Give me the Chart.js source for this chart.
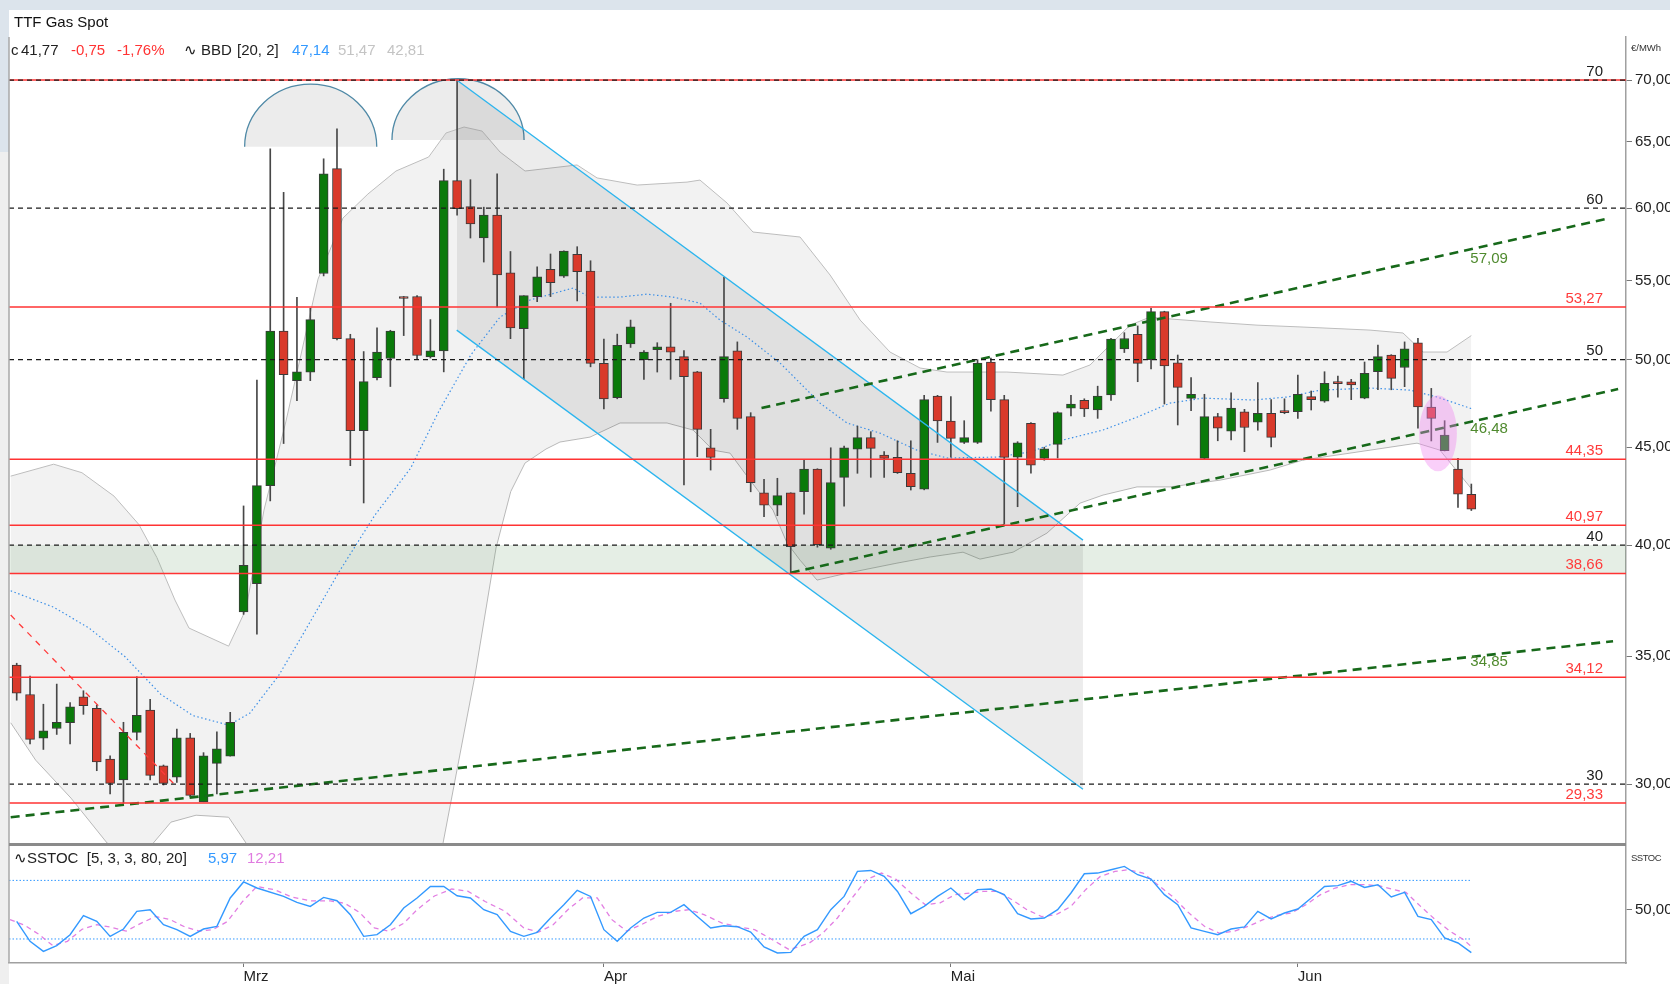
<!DOCTYPE html>
<html>
<head>
<meta charset="utf-8">
<script src="https://cdn.jsdelivr.net/npm/chart.js@4.4.1/dist/chart.umd.min.js"></script>
<style>
  body { margin: 0; width: 1670px; height: 984px; overflow: hidden; background: #fff; position: relative;
         font-family: "Liberation Sans", Arial, sans-serif; }
  #topStrip { position: absolute; left: 0; top: 0; width: 1670px; height: 10px; background: #dce4ec; }
  #leftStrip1 { position: absolute; left: 0; top: 10px; width: 9px; height: 142px; background: #dce4ec; }
  #leftStrip2 { position: absolute; left: 0; top: 152px; width: 9px; height: 832px; background: #efefef; }
  canvas { position: absolute; left: 0; }
  #priceChart { top: 0; }
  #stochChart { top: 843px; }
  .txt { position: absolute; font-size: 15px; line-height: 18px; color: #222; white-space: pre; z-index: 5; }
  .small { position: absolute; font-size: 9.5px; color: #333; z-index: 5; }
</style>
</head>
<body>
<div id="topStrip"></div>
<div id="leftStrip1"></div>
<div id="leftStrip2"></div>
<canvas id="priceChart" width="1670" height="843"></canvas>
<canvas id="stochChart" width="1670" height="141"></canvas>

<div class="txt" style="left:14px;top:13px;color:#111">TTF Gas Spot</div>
<div class="txt" style="left:11px;top:41px">c</div>
<div class="txt" style="left:21px;top:41px">41,77</div>
<div class="txt" style="left:71px;top:41px;color:#ff3333">-0,75</div>
<div class="txt" style="left:117px;top:41px;color:#ff3333">-1,76%</div>
<div class="txt" style="left:184px;top:41px">&#x223F;</div>
<div class="txt" style="left:201px;top:41px">BBD</div>
<div class="txt" style="left:237px;top:41px">[20, 2]</div>
<div class="txt" style="left:292px;top:41px;color:#3399ff">47,14</div>
<div class="txt" style="left:338px;top:41px;color:#c4c4c4">51,47</div>
<div class="txt" style="left:387px;top:41px;color:#c4c4c4">42,81</div>
<div class="small" style="left:1631px;top:42px">€/MWh</div>

<div class="txt" style="left:14px;top:849px">&#x223F;SSTOC  [5, 3, 3, 80, 20]</div>
<div class="txt" style="left:208px;top:849px;color:#3399ff">5,97</div>
<div class="txt" style="left:247px;top:849px;color:#e07ce0">12,21</div>
<div class="small" style="left:1631px;top:852px;letter-spacing:-0.5px">SSTOC</div>

<script>
// candles, index 0..109
const candleOpen = [34.62,33.42,31.71,32.08,32.30,33.32,32.87,30.92,30.15,31.93,32.80,30.67,30.25,31.72,29.37,30.76,31.03,
  36.91,38.19,42.97,51.75,48.75,49.25,55.46,62.92,51.28,45.91,48.93,50.07,53.86,53.95,50.17,50.53,62.02,60.11,57.88,59.50,55.50,
  51.90,53.94,55.74,55.29,56.76,55.62,49.78,47.76,50.95,50.00,50.61,50.78,50.18,49.28,44.97,47.71,50.53,46.69,42.60,41.97,42.60,
  42.65,43.83,39.85,43.40,44.89,45.52,44.58,44.46,43.61,42.78,47.86,46.44,45.26,45.26,49.85,47.65,44.46,46.31,44.40,45.15,47.17,
  47.61,47.06,47.92,50.65,51.54,50.00,52.97,49.81,47.72,44.40,46.69,45.88,46.96,46.37,46.87,47.02,46.96,47.82,47.56,48.60,48.69,
  47.74,49.28,50.28,49.53,51.03,47.23,44.81,43.83,42.52];
const candleHigh = [34.70,34.17,33.03,33.84,33.10,33.57,33.00,31.04,32.32,34.14,33.22,30.70,32.06,31.89,31.16,31.95,32.71,
  41.93,48.79,64.44,61.15,53.90,53.20,63.67,66.00,51.55,50.49,51.95,51.80,53.95,54.00,52.47,62.88,70.00,62.09,60.07,62.52,56.95,
  54.00,55.91,56.78,57.00,57.28,56.32,51.25,51.56,52.44,50.55,51.03,53.51,50.55,49.30,45.98,55.21,51.08,46.91,43.30,43.35,42.60,
  44.35,43.85,44.97,45.06,46.16,45.85,44.76,45.35,45.35,47.90,47.90,47.82,46.46,50.00,50.10,47.90,45.30,46.35,45.00,46.96,47.90,
  47.70,48.43,51.30,51.65,52.07,53.18,53.00,50.28,48.94,47.96,46.87,48.04,47.10,48.64,47.65,47.70,49.08,48.15,49.28,49.02,48.83,
  49.86,50.89,50.30,51.08,51.30,48.30,46.46,44.40,43.05];
const candleLow = [33.19,31.49,31.28,31.85,31.49,32.63,30.49,29.65,29.32,31.64,30.15,29.97,30.06,29.55,29.37,29.65,31.03,
  36.80,35.94,42.18,45.20,47.59,48.75,55.30,51.20,44.01,42.08,48.80,48.41,51.47,50.00,50.10,49.27,59.50,57.88,56.23,53.28,51.28,
  48.83,53.61,53.94,55.20,53.66,49.57,47.12,47.70,50.74,48.83,49.26,48.83,43.00,44.49,43.78,47.50,45.98,42.65,41.39,41.44,38.69,
  41.52,39.90,39.80,41.92,43.61,43.40,43.40,43.60,42.74,42.75,45.26,44.46,45.20,45.20,47.00,41.03,41.89,43.61,44.30,44.42,46.73,
  46.69,46.59,47.61,50.43,48.69,49.44,47.40,46.22,47.02,44.35,45.35,45.40,44.76,45.93,45.01,46.85,46.59,47.06,47.50,47.79,47.65,
  47.70,48.22,48.22,48.40,46.04,45.34,44.80,41.86,41.70];
const candleClose = [33.47,31.66,31.99,32.32,32.93,32.97,30.81,30.03,31.93,32.59,30.32,30.03,31.72,29.60,31.04,31.30,32.32,
  39.04,42.97,51.75,49.11,49.27,52.47,62.52,51.28,45.91,48.70,50.46,51.75,53.82,50.25,50.53,62.02,59.97,58.88,59.50,55.36,51.95,
  54.00,55.24,54.85,56.98,55.58,49.78,47.69,50.87,52.02,50.46,50.78,50.46,48.98,45.98,44.45,50.18,46.59,43.12,41.97,42.45,39.92,
  43.83,40.02,43.12,44.97,45.52,44.94,44.40,43.64,42.91,47.65,46.44,45.48,45.52,49.79,47.65,44.45,45.24,44.04,44.91,46.91,47.40,
  47.12,47.86,51.25,51.29,49.78,52.97,49.62,48.36,47.96,46.69,46.04,47.17,46.08,46.87,45.54,46.91,47.95,47.65,48.59,48.58,48.50,
  49.18,50.18,48.89,50.65,47.23,46.59,45.66,42.53,41.77];

// Bollinger (20, 2): [candle index, price]
const bbUpper = [[-0.45,43.46],[2.77,44.09],[4.89,43.64],[7.29,42.43],[9.16,41.00],[10.51,39.40],[11.86,37.44],[12.91,36.20],
  [15.88,35.42],[17.18,37.03],[18.53,41.72],[20.18,46.44],[22.58,55.09],[24.45,59.29],[26.32,61.03],[28.42,62.74],[30.87,63.81],
  [32.17,65.68],[33.52,66.15],[34.87,65.83],[36.22,64.19],[38.09,62.74],[41.99,63.20],[43.49,62.22],[46.49,61.69],[50.23,61.91],
  [51.2,62.06],[53.23,60.37],[55.17,58.30],[58.7,57.95],[60.95,55.36],[63.2,52.44],[65.44,50.46],[67.69,49.50],[69.71,49.26],
  [74.2,49.26],[78.4,49.08],[80.43,49.68],[81.93,50.89],[83.43,52.12],[84.92,52.63],[86.42,52.51],[89.42,52.32],[92.94,52.12],
  [96.39,52.00],[101.41,51.81],[103.88,51.63],[105.38,50.46],[107.18,50.46],[109,51.47]];
const bbLower = [[-0.45,32.30],[1.42,30.88],[4.07,29.50],[6.77,27.95],[9.0,27.3],[11.56,28.66],[13.44,28.90],[15.88,28.83],
  [17.18,27.95],[21,24.0],[26,21.5],[30,24.0],[31.95,27.95],[34.35,34.21],[35.92,39.86],[37.02,42.66],[38.09,44.15],[39.66,44.90],
  [40.71,45.28],[42.96,45.55],[45.21,46.33],[48.73,46.33],[50.68,45.94],[52.18,44.84],[53.45,44.68],[54.95,43.25],[56.67,41.72],
  [57.72,40.10],[58.7,39.28],[59.97,38.35],[62.22,38.67],[65.96,39.14],[68.44,39.43],[70.91,39.66],[72.18,39.33],[74.66,39.66],
  [77.2,40.58],[79.68,42.07],[81.4,42.48],[83.95,42.90],[86.42,42.90],[90.17,43.25],[93.92,43.78],[96.39,44.31],[101.41,44.84],
  [104.93,45.22],[106.65,44.84],[109,42.81]];
const bbMiddle = [[-0.45,37.86],[2.77,37.12],[5.42,36.20],[8.12,34.97],[10.79,33.43],[13.21,32.58],[15.88,32.21],[17.48,32.68],
  [19.63,34.19],[21.5,35.98],[24.15,38.73],[26.85,41.48],[29.52,43.88],[31.64,47.00],[34.04,50.30],[36.22,52.63],[38.46,53.72],
  [41.69,54.50],[42.96,53.91],[45.21,53.91],[47.23,54.10],[49.18,53.91],[51.2,53.52],[52.7,52.44],[54.72,51.38],[57.2,49.80],
  [58.7,48.61],[60.2,47.45],[62.22,46.33],[64.69,45.77],[67.46,44.84],[69.71,44.42],[73.46,44.47],[75.93,44.74],[78.4,45.39],
  [81.4,45.94],[83.95,46.66],[86.42,47.45],[88.9,47.74],[92.64,47.63],[95.19,47.80],[97.67,48.20],[101.41,48.32],[104.41,48.20],
  [106.44,47.80],[109,47.14]];

// drawn lines: [candle index, price]
const trendUpper = [[55.81,47.17],[119.4,59.29]];
const trendMiddle = [[58,38.69],[120,48.26]];
const trendLower = [[-0.45,28.83],[119.62,35.63]];
const channelUpper = [[32.97,70.0],[79.9,40.24]];
const channelLower = [[32.97,51.81],[79.9,29.82]];
const shortDownLine = [[-0.45,36.77],[11.86,29.97]];
const roundLevels = [70, 60, 50, 40, 30];
const redLevels = [53.27, 44.35, 40.97, 38.66, 34.12, 29.33];
const greenZone = [38.66, 40];
const trendLabels = [['57,09', 57.09, 9], ['46,48', 46.48, 9], ['34,85', 34.85, 2]];
const domes = [{ center: 22.03, base: 64.6, top: 69.66, halfWidth: 4.95 },
               { center: 33.07, base: 65.12, top: 70.11, halfWidth: 4.95 }];
const highlight = { center: 106.5, mid: 45.76, top: 47.9, bottom: 43.71, halfWidth: 1.42 };
const priceTicks = [30, 35, 40, 45, 50, 55, 60, 65, 70];

// slow stochastic [5, 3, 3, 80, 20]
const stochK = [[0,38],[1,17.6],[2,7.3],[3,13.2],[4,24.4],[5,43.9],[6,38],[7,22.7],[8,30.2],[9,48.3],[10,50],[11,34.6],
  [12,29.5],[13,22.7],[14,30.2],[15,32.9],[16,62],[17,78.4],[18,72.2],[20,63.6],[21,57.5],[22,53.4],[23,62.6],[24,59.2],
  [25,44.9],[26,22.7],[27,24.4],[28,34.6],[29,51.7],[30,62],[31,73.8],[32,73.8],[33,64.3],[34,62],[35,50],[36,44.9],[37,27.8],
  [38,22.7],[39,26.8],[40,41.5],[41,55.1],[42,69.8],[43,63.6],[44,29.5],[45,17.6],[46,31.3],[47,41.5],[48,47.2],[49,47.2],
  [50,55.1],[51,43.1],[52,31.3],[53,33.6],[54,32.6],[55,27],[56,11.8],[57,5.7],[58,6.3],[59,22.7],[60,29.5],[61,50],[62,63.6],
  [63,89.2],[64,90.2],[65,84.1],[66,68.7],[67,45.9],[68,53.4],[69,63.6],[70,72.2],[71,60.2],[72,70.5],[73,71.2],[74,65.4],
  [75,45.9],[76,40.5],[77,41.5],[78,50],[79,67.1],[80,86.8],[81,87.5],[82,90.9],[83,94.3],[84,85.8],[85,81.4],[86,65.4],
  [87,55.1],[88,31.3],[89,27.8],[90,24.4],[91,30.2],[92,32.3],[93,48.3],[94,40.5],[95,46.6],[96,50.7],[97,62],[98,73.8],
  [99,74.6],[100,79],[101,72.8],[102,75.6],[103,63],[104,67.7],[105,43.1],[106,39.8],[107,21],[108,15.9],[109,6]];
const stochD = [[-0.5,39.8],[0.6,34],[1.7,24.4],[2.7,13.2],[3.8,17.6],[4.9,30],[6,34.6],[7.1,32],[8.2,28],[9.3,36],[10.4,43],
  [11.5,39.8],[12.6,32.3],[13.7,28],[14.7,29.5],[15.8,38],[16.9,58],[18,73.8],[19.3,70.5],[20.6,63],[22,59],[23.5,59],
  [24.6,56.5],[25.7,47],[26.8,31.3],[27.9,28],[29,36],[30,50],[31.3,64],[32.6,71.2],[33.8,68.9],[35.1,58.4],[36.6,48.3],
  [38,31.3],[39.1,27],[40.2,34.6],[41.3,50],[42.4,62],[43.5,62],[44.6,39.8],[45.7,28],[46.8,34.6],[48,43],[49.3,48.3],
  [50.4,50],[51.5,44.9],[52.9,36],[54.3,32],[55.3,29.5],[56.4,21],[57.9,9],[59.4,15.9],[60.4,26],[61.5,41.5],[62.6,62],
  [63.7,81],[64.8,87.5],[65.9,81],[67,67],[68.1,55],[69.2,57],[70.3,65.4],[71.4,67],[72.4,68.7],[73.5,68.7],[74.6,60],
  [75.7,50],[76.8,43],[77.9,45],[79,53.4],[80.1,70.5],[81.2,84.1],[82.3,89.2],[83.3,90.9],[84.4,87.5],[85.5,75.6],[86.6,63.6],
  [87.7,48.3],[89,33],[90.1,26],[91.2,27.8],[92.3,33],[93.4,39.8],[94.4,44],[95.5,46.6],[96.6,55],[97.7,65.4],[98.8,72.2],
  [99.9,75.6],[101,75.6],[102.1,74.6],[103.2,70.5],[104.1,67.7],[105.2,53.4],[106.3,39.8],[107.4,28],[108.4,19.4],[109,12.2]];
const stochLevels = [80, 20];
const monthTicks = [17, 44, 70, 96];
const monthNames = ['Mrz', 'Apr', 'Mai', 'Jun'];

const xMin = -0.577, xMax = 120.59;
const FONT = '"Liberation Sans", Arial, sans-serif';
const fmt = v => v.toFixed(2).replace('.', ',');
const pts = arr => arr.map(([x, y]) => ({ x, y }));
const hline = v => [{ x: xMin, y: v }, { x: xMax, y: v }];
const lineDs = (data, color, width, dash, order, extra) => Object.assign({
  type: 'line', data, borderColor: color, borderWidth: width, borderDash: dash || [],
  pointRadius: 0, tension: 0, fill: false, order
}, extra || {});

const datasets = [];
// 0,1: bollinger band area
datasets.push(lineDs(pts(bbUpper), '#bdbdbd', 1, null, 20, { fill: { target: 1 }, backgroundColor: 'rgba(0,0,0,0.05)' }));
datasets.push(lineDs(pts(bbLower), '#bdbdbd', 1, null, 20));
// 2,3: green support zone
datasets.push(lineDs(hline(greenZone[1]), 'transparent', 1, null, 19, { fill: { target: 3 }, backgroundColor: 'rgba(110,160,110,0.18)' }));
datasets.push(lineDs(hline(greenZone[0]), 'transparent', 1, null, 19));
// 4,5: channel shading
datasets.push(lineDs(pts(channelUpper), 'transparent', 1, null, 18, { fill: { target: 5 }, backgroundColor: 'rgba(0,0,0,0.075)' }));
datasets.push(lineDs(pts(channelLower), 'transparent', 1, null, 18));
datasets.push(lineDs(pts(bbMiddle), '#3d8fe6', 1.2, [1.5, 2.5], 15));
datasets.push({
  type: 'bar', order: 12, grouped: false, barThickness: 1, backgroundColor: '#474747', borderWidth: 0,
  data: candleLow.map((l, i) => ({ x: i, y: [l, candleHigh[i]] }))
});
datasets.push({
  type: 'bar', order: 11, grouped: false, barThickness: 9, minBarLength: 2,
  borderColor: '#3a3a3a', borderWidth: 1, borderSkipped: false,
  backgroundColor: candleOpen.map((o, i) => candleClose[i] >= o ? '#0a7a0a' : '#d93a2b'),
  data: candleOpen.map((o, i) => ({ x: i, y: [o, candleClose[i]] }))
});
datasets.push(lineDs(pts(channelUpper), '#2cb5ee', 1.3, null, 8));
datasets.push(lineDs(pts(channelLower), '#2cb5ee', 1.3, null, 8));
datasets.push(lineDs(pts(shortDownLine), '#ff3a3a', 1.3, [6, 6], 8));
[trendUpper, trendMiddle, trendLower].forEach(t => datasets.push(lineDs(pts(t), '#17691a', 2.6, [9, 6], 6)));
datasets.push(lineDs(hline(70), '#ff3333', 1.5, null, 4));
redLevels.forEach(v => datasets.push(lineDs(hline(v), '#ff3333', 1.5, null, 4)));
roundLevels.forEach(v => datasets.push(lineDs(hline(v), '#1a1a1a', 1.3, [5, 4], 3)));

function leftLine(chart) {
  const { ctx, chartArea: a } = chart;
  ctx.save();
  ctx.strokeStyle = '#a8a8a8'; ctx.lineWidth = 1.5;
  ctx.beginPath(); ctx.moveTo(a.left, a.top); ctx.lineTo(a.left, a.bottom); ctx.stroke();
  ctx.restore();
}

const priceOverlay = {
  id: 'priceOverlay',
  beforeDatasetsDraw(chart) {
    const { ctx, scales: { x, y } } = chart;
    ctx.save();
    domes.forEach(d => {
      const cx = x.getPixelForValue(d.center), by = y.getPixelForValue(d.base);
      const rx = x.getPixelForValue(d.center + d.halfWidth) - cx;
      const ry = by - y.getPixelForValue(d.top);
      ctx.beginPath(); ctx.ellipse(cx, by, rx, ry, 0, Math.PI, 2 * Math.PI); ctx.closePath();
      ctx.fillStyle = '#ececec'; ctx.fill();
      ctx.beginPath(); ctx.ellipse(cx, by, rx, ry, 0, Math.PI, 2 * Math.PI);
      ctx.strokeStyle = '#4f89a6'; ctx.lineWidth = 1.3; ctx.stroke();
    });
    ctx.restore();
  },
  afterDatasetsDraw(chart) {
    const { ctx, chartArea: a, scales: { x, y } } = chart;
    ctx.save();
    // highlight ellipse
    const hx = x.getPixelForValue(highlight.center), hy = y.getPixelForValue(highlight.mid);
    const hrx = x.getPixelForValue(highlight.center + highlight.halfWidth) - hx;
    const hry = (y.getPixelForValue(highlight.bottom) - y.getPixelForValue(highlight.top)) / 2;
    ctx.beginPath(); ctx.ellipse(hx, hy, hrx, hry, 0, 0, 2 * Math.PI);
    ctx.fillStyle = 'rgba(238,130,238,0.38)'; ctx.fill();

    ctx.font = '15px ' + FONT;
    ctx.textAlign = 'right'; ctx.textBaseline = 'bottom';
    const lx = a.right - 23;
    roundLevels.forEach(v => { ctx.fillStyle = '#1a1a1a'; ctx.fillText(String(v), lx, y.getPixelForValue(v) - 1); });
    redLevels.forEach(v => { ctx.fillStyle = '#ff3b3b'; ctx.fillText(fmt(v), lx, y.getPixelForValue(v) - 1); });
    ctx.textAlign = 'left'; ctx.textBaseline = 'middle'; ctx.fillStyle = '#4f8a2e';
    trendLabels.forEach(([t, v, dy]) => ctx.fillText(t, x.getPixelForValue(109) - 1, y.getPixelForValue(v) + dy));
    ctx.restore();
  },
  afterDraw: leftLine
};

new Chart(document.getElementById('priceChart'), {
  type: 'line',
  data: { datasets },
  options: {
    responsive: false, animation: false, events: [],
    layout: { padding: { left: 9, top: 37, right: 0, bottom: 0 } },
    plugins: { legend: { display: false }, tooltip: { enabled: false } },
    scales: {
      x: { type: 'linear', min: xMin, max: xMax, offset: false, display: false },
      y: {
        type: 'logarithmic', position: 'right', min: 27.95, max: 73.72, beginAtZero: false,
        afterBuildTicks: s => { s.ticks = priceTicks.map(v => ({ value: v })); },
        afterFit: s => { s.width = 44; s.paddingTop = 0; s.paddingBottom = 0; },
        ticks: { callback: v => fmt(v), font: { family: FONT, size: 15 }, color: '#222', padding: 3 },
        grid: { drawOnChartArea: false, tickLength: 6, color: '#777' },
        border: { color: '#a0a0a0', width: 1.5 }
      }
    }
  },
  plugins: [priceOverlay]
});

const stochOverlay = {
  id: 'stochOverlay',
  afterDraw(chart) {
    const { ctx, chartArea: a } = chart;
    leftLine(chart);
    ctx.save();
    ctx.strokeStyle = '#8a8a8a'; ctx.lineWidth = 3;
    ctx.beginPath(); ctx.moveTo(a.left, a.top + 1.5); ctx.lineTo(a.right, a.top + 1.5); ctx.stroke();
    ctx.restore();
  }
};

new Chart(document.getElementById('stochChart'), {
  type: 'line',
  data: {
    datasets: [
      lineDs(pts(stochK), '#3399ff', 1.4, null, 1),
      lineDs(pts(stochD), '#e27ee2', 1.3, [5, 4], 2),
      ...stochLevels.map(v => lineDs([{ x: xMin, y: v }, { x: 109, y: v }], '#3399ff', 1, [1.5, 2], 3))
    ]
  },
  options: {
    responsive: false, animation: false, events: [],
    layout: { padding: { left: 9, top: 0, right: 0, bottom: 0 } },
    plugins: { legend: { display: false }, tooltip: { enabled: false } },
    scales: {
      x: {
        type: 'linear', min: xMin, max: xMax, offset: false,
        afterBuildTicks: s => { s.ticks = monthTicks.map(v => ({ value: v })); },
        afterFit: s => { s.height = 21; s.paddingLeft = 0; s.paddingRight = 0; },
        ticks: { callback: (v, i) => monthNames[i], align: 'start', autoSkip: false, maxRotation: 0,
                 font: { family: FONT, size: 15 }, color: '#222', padding: 1 },
        grid: { drawOnChartArea: false, tickLength: 4, color: '#777' },
        border: { color: '#a0a0a0', width: 1.5 }
      },
      y: {
        type: 'linear', position: 'right', min: -4.6, max: 118.3,
        afterBuildTicks: s => { s.ticks = [{ value: 50 }]; },
        afterFit: s => { s.width = 44; s.paddingTop = 0; s.paddingBottom = 0; },
        ticks: { callback: v => fmt(v), font: { family: FONT, size: 15 }, color: '#222', padding: 3 },
        grid: { drawOnChartArea: false, tickLength: 6, color: '#777' },
        border: { color: '#a0a0a0', width: 1.5 }
      }
    }
  },
  plugins: [stochOverlay]
});
</script>
</body>
</html>
